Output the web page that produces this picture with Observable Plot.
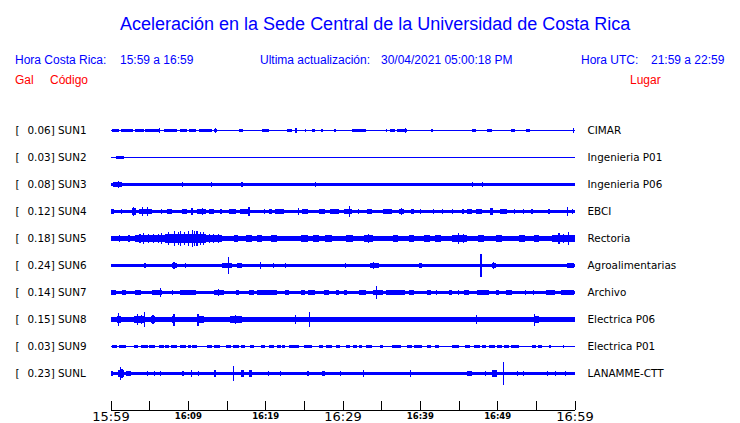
<!DOCTYPE html>
<html><head><meta charset="utf-8">
<script src="https://cdn.jsdelivr.net/npm/d3@7"></script>
<script src="https://cdn.jsdelivr.net/npm/@observablehq/plot@0.6"></script>
<style>
body{margin:0;background:#fff;width:740px;height:423px;overflow:hidden}
#head{position:relative;height:100px;font-family:"Liberation Sans",Arial,sans-serif;}
#head span{position:absolute;white-space:pre;line-height:1;}
.b{color:#0000ff;font-size:12px}
.r{color:#ff0000;font-size:12px}
#chart svg{display:block}
</style></head><body>
<div id="head">
<span class="b" style="left:120px;top:15px;font-size:18px">Aceleración en la Sede Central de la Universidad de Costa Rica</span>
<span class="b" style="left:15px;top:54px">Hora Costa Rica:</span>
<span class="b" style="left:120px;top:54px">15:59 a 16:59</span>
<span class="b" style="left:260px;top:54px">Ultima actualización:</span>
<span class="b" style="left:381px;top:54px">30/04/2021 05:00:18 PM</span>
<span class="b" style="left:581px;top:54px">Hora UTC:</span>
<span class="b" style="left:651px;top:54px">21:59 a 22:59</span>
<span class="r" style="left:15px;top:74px">Gal</span>
<span class="r" style="left:50px;top:74px">Código</span>
<span class="r" style="left:630px;top:74px">Lugar</span>
</div>
<div id="chart"></div>
<script>
// stations (top to bottom)
const stations = ["SUN1","SUN2","SUN3","SUN4","SUN5","SUN6","SUN7","SUN8","SUN9","SUNL"];
const peaks = ["0.06","0.03","0.08","0.12","0.18","0.24","0.14","0.15","0.03","0.23"];
const places = ["CIMAR","Ingenieria P01","Ingenieria P06","EBCI","Rectoria","Agroalimentarias","Archivo","Electrica P06","Electrica P01","LANAMME-CTT"];
// background noise half-amplitude (Gal) of each trace
const noise = [0.011,0.011,0.031,0.035,0.052,0.031,0.035,0.05,0.011,0.038];
// bursts [startMin, endMin, halfAmpGal] and spikes [min, halfAmpGal]; minutes after 15:59
const sun1 = [[0.2,1.1,0.027],[1.3,2.8,0.027],[2.8,0.04],[3.2,4.3,0.027],[4.5,6.25,0.027],[6.38,0.05],[6.9,8.6,0.027],[9.05,9.9,0.027],[10.1,11.0,0.027],[11.4,13.15,0.027],[11.85,0.04],[13.4,13.8,0.027],[13.58,0.045],
 [14.0,0.02],[15.1,0.02],[16.6,17.1,0.025],[17.5,0.02],[18.5,0.02],[19.2,0.02],[19.6,20.5,0.025],[21.1,21.55,0.02],[22.8,23.5,0.025],[24.0,0.06],[24.6,0.02],[25.2,0.025],[26.1,26.5,0.025],[27.2,27.5,0.025],[28.9,29.2,0.025],[29.7,0.02],[31.25,33.0,0.025],[33.4,0.02],[34.3,0.02],[34.9,0.02],[35.6,35.8,0.025],[36.2,36.85,0.025],[37.1,38.4,0.028],[38.1,0.045],[40.5,0.02],[41.4,41.7,0.025],[44.0,44.2,0.02],[46.7,47.2,0.025],[47.4,0.02],[48.7,49.35,0.025],[49.8,0.02],[51.85,52.3,0.025],[53.2,0.02],[53.75,54.3,0.025],[55.0,0.02],[56.8,0.02],[58.1,0.02],[59.9,0.045]];
const sun2 = [[0.65,1.7,0.025],[0.9,0.03],[1.85,0.015],[8.7,0.015],[9.5,0.02],[12.9,13.4,0.02],[17.0,0.015],[32.7,0.015],[33.1,0.02],[44.4,0.015],[46.6,0.02],[47.0,0.015],[48.1,0.02],[52.3,0.015]];
const sun3 = [[0.4,1.5,0.05],[0.45,0.06],[1.0,0.08],[9.3,0.05],[13.05,0.06],[17.0,0.045],[26.5,0.045],[46.8,0.045],[48.1,0.045]];
const sun4 = [[0,0.45,0.05],[1.3,1.5,0.06],[2.8,3.25,0.065],[3.0,0.09],[3.7,5.4,0.055],[4.1,0.09],[4.75,0.09],[6.5,6.7,0.05],[7.3,8.0,0.05],[9.3,9.9,0.05],[10.55,0.065],[11.2,12.3,0.055],[11.85,0.075],[12.7,13.4,0.05],[14.2,14.4,0.05],[15.3,16.2,0.05],[16.8,18.1,0.05],[17.9,0.085],[19.8,20.0,0.05],[20.5,20.9,0.05],[21.3,22.4,0.05],[24.3,0.07],[24.8,25.6,0.05],[26.9,27.8,0.05],[28.4,29.5,0.05],[30.2,31.25,0.055],[30.95,0.12],[32.1,0.05],[33.2,33.8,0.05],[35.3,36.4,0.05],[37.3,37.9,0.055],[37.6,0.07],[38.8,39.2,0.05],[40.1,0.05],[41.8,0.05],[42.9,0.05],[44.2,0.05],[45.5,45.7,0.05],[46.1,46.8,0.05],[47.2,48.1,0.055],[49.1,49.4,0.07],[50.4,51.3,0.05],[52.2,0.05],[53.4,0.05],[54.5,0.05],[56.7,0.05],[59.05,0.095],[59.7,0.05]];
const sun5 = [[0,3.2,0.06],[1.2,0.08],[2.4,0.075],[3.2,7.1,0.072],[3.8,0.1],[4.3,0.11],[4.9,0.09],[5.6,0.1],[6.2,0.09],[6.6,0.11],[7.1,12.3,0.095],[7.5,0.13],[8.3,0.15],[8.8,0.13],[9.1,0.15],[9.6,0.14],[10.1,0.16],[10.56,0.18],[10.9,0.15],[11.2,0.16],[11.6,0.14],[12.0,0.14],[12.3,14.4,0.072],[12.8,0.1],[13.3,0.1],[14.0,0.09],[16.0,16.5,0.065],[17.5,18.3,0.065],[19.0,19.6,0.065],[20.7,21.5,0.065],[24.6,25.5,0.068],[26.2,27.0,0.065],[27.8,28.6,0.065],[30.5,31.4,0.065],[32.8,34.0,0.068],[33.4,0.1],[36.5,37.2,0.065],[38.6,39.2,0.065],[40.5,41.3,0.065],[42.0,42.8,0.065],[44.2,46.1,0.08],[45.0,0.12],[45.6,0.1],[47.5,48.3,0.065],[49.8,50.6,0.068],[52.8,53.6,0.065],[54.8,55.4,0.065],[57.1,60,0.078],[58.0,0.11],[58.6,0.1],[59.2,0.14]];
const sun6 = [[0,1.1,0.04],[4.45,0.05],[5.2,0.04],[5.8,0.04],[8.0,8.6,0.06],[8.2,0.07],[9.7,0.05],[11.4,0.04],[12.9,0.04],[14.4,15.7,0.045],[15.3,0.17],[16.4,17.0,0.045],[17.9,0.04],[19.4,0.08],[21.1,0.06],[22.6,0.045],[23.7,0.04],[27.8,0.04],[30.4,0.05],[33.6,34.7,0.05],[34.0,0.08],[36.85,0.04],[38.15,0.04],[39.9,40.3,0.055],[42.9,0.04],[47.9,0.24],[49.35,49.8,0.055],[49.5,0.075],[51.1,0.04],[52.8,0.04],[54.1,0.04],[56.7,0.04],[59.0,59.9,0.05]];
const sun7 = [[0,0.65,0.05],[1.5,1.95,0.05],[3.2,3.9,0.05],[5.4,6.7,0.055],[6.45,0.1],[8.0,0.05],[9.05,11.0,0.05],[13.4,14.65,0.06],[14.0,0.075],[16.2,16.6,0.05],[17.9,18.5,0.05],[19.0,21.55,0.05],[22.6,23.1,0.05],[24.6,25.2,0.05],[25.6,26.5,0.05],[27.6,28.2,0.05],[29.1,29.5,0.05],[30.2,30.6,0.05],[32.1,33.0,0.05],[34.0,35.2,0.06],[34.35,0.14],[35.6,38.1,0.05],[38.6,39.2,0.055],[40.9,41.4,0.05],[42.2,0.055],[43.75,44.2,0.055],[45.0,0.05],[45.7,46.3,0.055],[47.4,48.9,0.055],[49.8,50.2,0.05],[51.1,51.9,0.05],[53.7,0.05],[54.7,0.05],[56.25,57.5,0.05],[58.2,59.9,0.05]];
const sun8 = [[0.85,1.3,0.07],[1.0,0.14],[3.0,4.5,0.075],[3.5,0.12],[4.0,0.1],[4.4,0.15],[5.2,5.8,0.068],[5.5,0.09],[8.0,8.4,0.07],[8.2,0.125],[9.3,10.6,0.06],[11.2,12.1,0.065],[11.3,0.125],[13.1,14.4,0.06],[15.5,17.0,0.065],[16.2,0.09],[18.3,19.6,0.058],[20.5,21.3,0.06],[22.0,24.4,0.062],[23.9,0.1],[25.7,0.15],[26.5,29.5,0.058],[31.25,32.1,0.058],[32.5,33.8,0.058],[34.5,35.6,0.058],[36.4,38.1,0.058],[40.3,40.9,0.06],[41.8,42.5,0.058],[43.3,45.5,0.058],[45.9,48.9,0.062],[47.3,0.085],[50.2,53.2,0.058],[54.7,55.4,0.075],[54.8,0.125],[55.4,57.1,0.062],[58.0,59.9,0.056]];
const sun9 = [[0.2,0.9,0.025],[1.1,1.95,0.025],[0.6,0.03],[3.0,3.6,0.025],[3.9,4.8,0.025],[5.0,5.8,0.025],[6.25,6.9,0.025],[7.1,7.6,0.025],[7.8,8.6,0.025],[9.05,9.8,0.025],[10.0,10.4,0.025],[10.6,11.2,0.025],[12.5,13.1,0.025],[13.4,14.2,0.025],[14.9,15.6,0.025],[15.9,16.6,0.025],[16.9,17.45,0.025],[18.1,18.5,0.025],[19.4,20.0,0.025],[20.5,21.2,0.025],[21.5,22.0,0.025],[22.2,22.6,0.025],[23.1,24.35,0.025],[25.0,26.1,0.025],[26.9,27.5,0.025],[27.9,28.7,0.025],[29.1,29.7,0.025],[30.4,31.0,0.025],[31.3,31.9,0.025],[32.1,32.5,0.025],[33.0,33.8,0.025],[34.9,35.3,0.025],[36.4,37.5,0.025],[38.4,39.0,0.025],[39.3,40.3,0.025],[40.9,41.4,0.025],[42.0,42.5,0.025],[44.2,45.0,0.025],[45.9,46.55,0.025],[47.0,47.8,0.025],[48.0,48.6,0.025],[48.9,49.7,0.025],[50.0,50.6,0.025],[50.9,51.5,0.025],[51.8,52.8,0.025],[54.5,55.0,0.025],[55.3,55.8,0.025],[56.7,56.9,0.025],[58.6,0.025]];
const sunl = [[0.2,0.045],[1.0,1.7,0.07],[1.25,0.14],[1.5,0.1],[1.95,2.6,0.06],[4.75,0.05],[5.7,0.05],[6.45,0.055],[9.3,9.5,0.05],[10.35,10.55,0.065],[11.4,0.05],[13.35,13.65,0.065],[15.95,0.15],[16.9,17.2,0.065],[17.9,18.3,0.065],[20.4,0.05],[22.0,0.05],[25.55,0.05],[27.4,27.8,0.055],[29.75,0.05],[32.75,0.07],[38.8,0.065],[46.1,46.8,0.05],[48.5,0.05],[49.35,50.0,0.065],[50.85,0.23],[52.6,0.05],[53.45,0.05],[56.5,0.05],[57.5,0.05],[58.8,0.05]];
const events = [sun1,sun2,sun3,sun4,sun5,sun6,sun7,sun8,sun9,sunl];
// time axis
const tickMinutes = [0,5,10,15,20,25,30,35,40,45,50,55,60];
const majorTickMinutes = [0,30,60];
const majorTickLabels = ["15:59","16:29","16:59"];
const minorTickMinutes = [10,20,40,50];
const minorTickLabels = ["16:09","16:19","16:39","16:49"];

const galPerTrack = 0.5625; // common amplitude scale: one trace spacing in Gal
const rows = [];
events.forEach((list, i) => {
  rows.push({i, t0: 0, t1: 60, a: noise[i]});
  for (const e of list) {
    if (e.length === 2) rows.push({i, t0: e[0] - 0.08, t1: e[0] + 0.08, a: e[1]});
    else rows.push({i, t0: e[0], t1: e[1], a: e[2]});
  }
});
const lab = {fontFamily: "DejaVu Sans", fontSize: 10.4, fill: "#000", textAnchor: "start", lineAnchor: "middle"};
const axisY = 10 + 1/3;
const chart = Plot.plot({
  width: 740, height: 323, margin: 0,
  style: {background: "#fff"},
  x: {domain: [0, 60], range: [110.5, 574.5], axis: null},
  y: {domain: [0, 9], range: [30.5, 273.5], axis: null},
  marks: [
    Plot.rect(rows, {x1: "t0", x2: "t1", y1: d => d.i - d.a / galPerTrack, y2: d => d.i + d.a / galPerTrack, fill: "#0000ff", shapeRendering: "crispEdges"}),
    Plot.text(stations, {frameAnchor: "left", y: (d, i) => i, text: () => "[", dx: 15, ...lab}),
    Plot.text(stations, {frameAnchor: "left", y: (d, i) => i, text: (d, i) => `${peaks[i]}] ${d}`, dx: 27, ...lab}),
    Plot.text(places, {x: 60, y: (d, i) => i, text: d => d, dx: 12.5, ...lab}),
    Plot.ruleX(tickMinutes, {x: d => d, y1: 10, y2: axisY, stroke: "#000", shapeRendering: "crispEdges"}),
    Plot.ruleY([axisY], {x1: 0, x2: 60, stroke: "#000", shapeRendering: "crispEdges"}),
    Plot.text(majorTickMinutes, {x: d => d, y: axisY, text: (d, i) => majorTickLabels[i], lineAnchor: "top", dy: 2, fontSize: 13, fontFamily: "DejaVu Sans", fill: "#000"}),
    Plot.text(minorTickMinutes, {x: d => d, y: axisY, text: (d, i) => minorTickLabels[i], lineAnchor: "top", dy: 3, fontSize: 8.5, fontWeight: "bold", fontFamily: "DejaVu Sans", fill: "#000"})
  ]
});
document.getElementById("chart").appendChild(chart);
</script>
</body></html>
